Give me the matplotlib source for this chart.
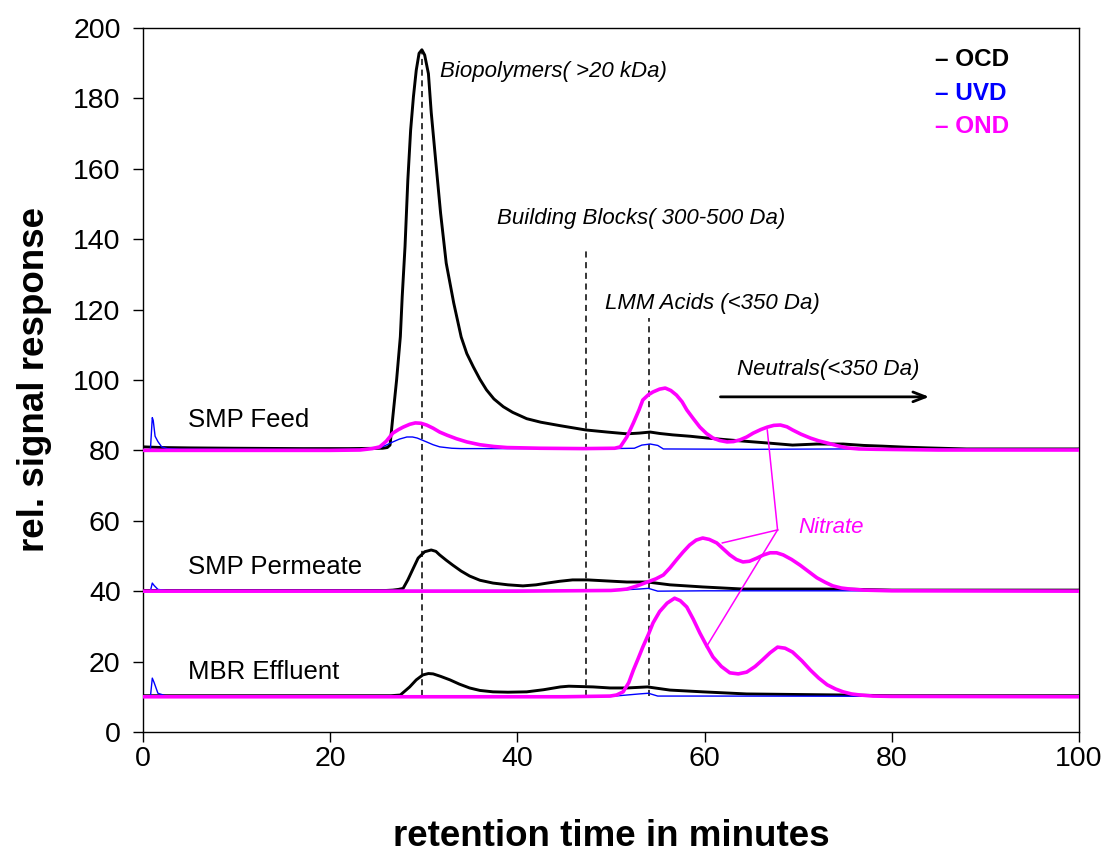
import matplotlib.pyplot as plt

plt.rcParams['font.family'] = ['Liberation Sans', 'DejaVu Sans']

# SMP Feed (baseline offset 80)
feed_ocd_t = [0, 2, 5, 10, 17, 22, 25.6, 26.1, 26.4, 26.7, 27.1, 27.5, 27.7, 28.0, 28.3, 28.6,
              28.9, 29.2, 29.5, 29.8, 30.1, 30.5, 30.8, 31.3, 31.8, 32.4, 33.2, 34.0, 34.6,
              35.3, 36.0, 36.7, 37.5, 38.5, 39.5, 41.0, 42.5, 44.6, 47.3, 49.6, 51.7, 53.0,
              54.2, 55.2, 56.6, 58.5, 60.3, 62.0, 63.8, 66.7, 69.4, 72.0, 74.8, 77.0, 79.0,
              81.5, 83.8, 88, 95, 100]
feed_ocd = [81.0, 80.8, 80.7, 80.6, 80.5, 80.5, 80.6, 80.8, 81.5, 89.6, 100, 112.3, 123.7,
            137.9, 156.8, 171, 180.5, 188, 192.8, 193.8, 192.3, 187, 176, 161.6, 147.4, 133.2,
            121.9, 112.2, 107.5, 103.7, 100.2, 97.2, 94.6, 92.4, 90.8, 89.0, 88.0, 87.0, 85.8,
            85.2, 84.7, 84.9, 85.2, 84.8, 84.4, 84.0, 83.5, 83.1, 82.7, 82.1, 81.5, 81.8, 81.8,
            81.4, 81.2, 80.9, 80.7, 80.4, 80.4, 80.4]

feed_uvd_t = [0, 0.8, 1.0, 1.1, 1.3, 1.6, 2.0, 2.6, 4, 20, 24, 25.3, 26.0, 26.7, 27.4, 28.2,
              28.8, 29.3, 30.3, 31.0, 31.7, 33.0, 34.0, 40, 50, 52.5, 53.3, 54.2, 55.0, 55.6,
              65, 75, 85, 100]
feed_uvd = [80.2, 80.2, 89.3, 88.5, 84.0, 82.5, 81.0, 80.5, 80.3, 80.2, 80.3, 80.7, 81.5, 82.4,
            83.2, 83.8, 83.8, 83.5, 82.4, 81.6, 81.0, 80.6, 80.5, 80.5, 80.5, 80.6, 81.5, 81.8,
            81.4, 80.4, 80.3, 80.4, 80.3, 80.2]

feed_ond_t = [0, 20, 23.2, 24.5, 25.3, 26.0, 26.7, 27.3, 27.8, 28.5, 29.1, 29.7, 30.3, 31.0,
              31.7, 32.5, 33.5, 34.6, 36.0, 37.5, 38.9, 42.4, 47, 50.4, 51.0, 51.7, 52.4, 53.0,
              53.4, 54.0, 54.5, 55.2, 55.8, 56.4, 57.0, 57.6, 58.1, 58.8, 59.5, 60.2, 60.9,
              61.6, 62.4, 63.1, 63.8, 64.5, 65.2, 66.0, 66.7, 67.4, 68.1, 68.8, 69.4, 70.3,
              71.3, 72.2, 73.1, 74.2, 75.2, 76.5, 78.4, 85, 100]
feed_ond = [80, 80, 80.1, 80.5, 81, 82.6, 84.9, 85.9, 86.6, 87.4, 87.8, 87.7, 87.2, 86.3, 85.2,
            84.3, 83.3, 82.4, 81.6, 81.1, 80.8, 80.6, 80.5, 80.6, 81, 83.8, 87.8, 91.5, 94.3,
            95.8, 96.6, 97.4, 97.7, 97.0, 95.7, 93.8, 91.5, 89.0, 86.6, 84.8, 83.5, 82.8, 82.4,
            82.5, 83.0, 83.8, 84.9, 85.9, 86.6, 87.1, 87.2, 86.7, 85.8, 84.6, 83.5, 82.7, 82.1,
            81.3, 80.7, 80.4, 80.3, 80.1, 80.1]

# SMP Permeate (baseline offset 40)
perm_ocd_t = [0, 20, 26.0, 26.7, 27.3, 27.8, 28.3, 28.9, 29.4, 30.1, 30.8, 31.3, 31.7, 32.4,
              33.1, 34.0, 34.9, 36.0, 37.4, 39.0, 40.6, 42.0, 43.2, 44.5, 45.9, 47.5, 49.6,
              51.7, 53.9, 56.3, 59.8, 64.1, 74.8, 80, 100]
perm_ocd = [40.2, 40.2, 40.2, 40.3, 40.5, 40.8, 43.2, 46.6, 49.4, 51.2, 51.7, 51.3, 50.3, 48.8,
            47.4, 45.7, 44.3, 43.1, 42.3, 41.8, 41.5, 41.8, 42.3, 42.8, 43.2, 43.2, 42.9, 42.6,
            42.6, 41.8, 41.2, 40.6, 40.6, 40.3, 40.3]

perm_uvd_t = [0, 0.8, 1.0, 1.2, 1.6, 2.5, 20, 50, 53, 54, 55, 60, 100]
perm_uvd = [40.1, 40.1, 42.3, 41.6, 40.5, 40.2, 40.2, 40.2, 40.6, 40.8, 40.0, 40.1, 40.1]

perm_ond_t = [0, 20, 40, 50, 51.0, 51.7, 52.8, 53.9, 54.8, 55.6, 56.3, 57.0, 57.7, 58.4, 59.1,
              59.8, 60.5, 61.3, 62.0, 62.7, 63.4, 64.1, 64.8, 65.6, 66.3, 67.0, 67.7, 68.4,
              69.3, 70.2, 71.1, 72.0, 72.9, 73.7, 74.6, 75.5, 77.0, 80, 100]
perm_ond = [40, 40, 40, 40.2, 40.4, 40.6, 41.5, 42.6, 43.5, 44.6, 46.6, 48.9, 51.1, 53.1, 54.5,
            55.1, 54.7, 53.7, 52.0, 50.3, 49.0, 48.3, 48.5, 49.4, 50.3, 50.9, 50.9, 50.3, 49.0,
            47.4, 45.6, 43.8, 42.5, 41.5, 40.9, 40.6, 40.3, 40.1, 40]

# MBR Effluent (baseline offset 10)
mbr_ocd_t = [0, 20, 26.5, 27.5, 28.5, 29.2, 29.9, 30.5, 31.0, 31.8, 32.8, 33.8, 34.9, 36.0,
             37.4, 39.0, 41.0, 42.8, 44.6, 45.5, 48.1, 49.9, 51.7, 53.9, 56.3, 59.8, 64.5,
             74.8, 80, 100]
mbr_ocd = [10.3, 10.3, 10.3, 10.5, 12.8, 14.8, 16.2, 16.6, 16.5, 15.8, 14.8, 13.6, 12.5, 11.8,
           11.4, 11.3, 11.4, 12.0, 12.8, 13.0, 12.8, 12.5, 12.5, 12.8, 11.9, 11.4, 10.8, 10.5,
           10.3, 10.3]

mbr_uvd_t = [0, 0.8, 1.0, 1.2, 1.6, 2.5, 20, 50, 53, 54, 55, 60, 100]
mbr_uvd = [10.0, 10.0, 15.3, 14.0, 11.0, 10.2, 10.1, 10.1, 10.8, 11.0, 10.2, 10.2, 10.1]

mbr_ond_t = [0, 20, 45, 49.9, 50.6, 51.3, 51.9, 52.4, 52.9, 53.4, 54.0, 54.5, 55.2, 56.0, 56.8,
             57.4, 58.1, 58.8, 59.5, 60.2, 60.9, 61.8, 62.7, 63.6, 64.5, 65.4, 66.2, 67.0,
             67.8, 68.6, 69.4, 70.4, 71.3, 72.2, 73.1, 74.0, 74.8, 75.7, 76.6, 78.0, 80, 100]
mbr_ond = [10, 10, 10, 10.2, 10.5, 11.4, 14.0, 17.6, 20.8, 24.1, 27.7, 31.0, 34.2, 36.6, 38.0,
           37.3, 35.5, 32.0, 28.1, 24.6, 21.3, 18.6, 16.8, 16.5, 17.0, 18.6, 20.5, 22.5, 24.1,
           23.8, 22.7, 20.2, 17.6, 15.3, 13.4, 12.2, 11.4, 10.8, 10.5, 10.2, 10.1, 10]

sample_names = ['SMP Feed', 'SMP Permeate', 'MBR Effluent']
sample_label_y = [88.6, 46.9, 17.0]

# fraction markers: retention time, top of the dashed line
fraction_t = [29.8, 47.3, 54.1]
fraction_top = [193.8, 137.5, 117.6]

fig = plt.figure(figsize=(11.08, 8.55), dpi=100)
ax = fig.add_axes([0.129, 0.1439, 0.8448, 0.8234])

ocd_c, uvd_c, ond_c = 'black', '#0000ff', '#ff00ff'
for t, s in [(feed_ocd_t, feed_ocd), (perm_ocd_t, perm_ocd), (mbr_ocd_t, mbr_ocd)]:
    ax.plot(t, s, color=ocd_c, lw=2.1, zorder=3, solid_joinstyle='round')
for t, s in [(feed_uvd_t, feed_uvd), (perm_uvd_t, perm_uvd), (mbr_uvd_t, mbr_uvd)]:
    ax.plot(t, s, color=uvd_c, lw=1.0, zorder=3)
for t, s in [(feed_ond_t, feed_ond), (perm_ond_t, perm_ond), (mbr_ond_t, mbr_ond)]:
    ax.plot(t, s, color=ond_c, lw=2.6, zorder=4, solid_joinstyle='round')

for t, top in zip(fraction_t, fraction_top):
    ax.plot([t, t], [10.3, top], color='black', lw=1.1, ls=(0, (4, 3)), zorder=2)

for name, y in zip(sample_names, sample_label_y):
    ax.text(4.8, y, name, fontsize=18.5, va='center', ha='left')

ann = dict(fontsize=16, style='italic', va='center', ha='left')
ax.text(31.7, 187.5, 'Biopolymers( >20 kDa)', **ann)
ax.text(37.8, 146.0, 'Building Blocks( 300-500 Da)', **ann)
ax.text(49.4, 121.6, 'LMM Acids (<350 Da)', **ann)
ax.text(63.5, 103.0, 'Neutrals(<350 Da)', **ann)
ax.annotate('', xy=(84.3, 95.2), xytext=(61.4, 95.2),
            arrowprops=dict(arrowstyle='->,head_length=0.9,head_width=0.35',
                            color='black', lw=2.0))

# nitrate peaks
ax.text(70.0, 58.2, 'Nitrate', color=ond_c, **ann)
apex = (67.8, 57.4)
for end in [(66.7, 85.8), (61.9, 53.7), (60.2, 24.2)]:
    ax.plot([apex[0], end[0]], [apex[1], end[1]], color=ond_c, lw=1.1, zorder=4)

# detector key
for y, lab, c in [(190.9, 'OCD', ocd_c), (181.3, 'UVD', uvd_c), (171.9, 'OND', ond_c)]:
    ax.text(84.6, y, '\u2013 ' + lab, color=c, fontsize=17.5, fontweight='bold',
            va='center', ha='left')

ax.set_xlim(0, 100)
ax.set_ylim(0, 200)
ax.set_xticks(range(0, 101, 20))
ax.set_yticks(range(0, 201, 20))
ax.tick_params(axis='both', direction='out', length=7, width=1, labelsize=20.5)
ax.tick_params(axis='y', pad=9)
ax.tick_params(axis='x', pad=3)
for sp in ax.spines.values():
    sp.set_linewidth(1.0)

ax.set_xlabel('retention time in minutes', fontsize=26.5, fontweight='bold', labelpad=34)
ax.set_ylabel('rel. signal response', fontsize=26.5, fontweight='bold', labelpad=15)

fig.savefig('out.png', dpi=100)
